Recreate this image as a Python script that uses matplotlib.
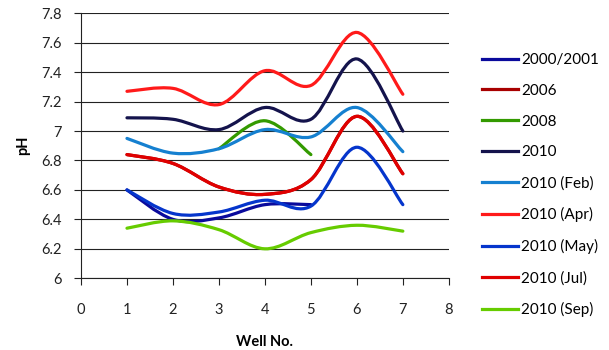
import matplotlib.pyplot as plt
import numpy as np
from matplotlib.path import Path
from matplotlib.patches import PathPatch
from matplotlib.lines import Line2D

wells = [1, 2, 3, 4, 5, 6, 7]
nan = np.nan

ph_2000 = [6.60, 6.40, 6.41, 6.50, 6.50, nan, nan]
ph_2006 = [6.84, 6.78, 6.62, 6.57, 6.67, 7.10, 6.71]
ph_2008 = [nan, nan, 6.88, 7.07, 6.84, nan, nan]
ph_2010 = [7.09, 7.08, 7.01, 7.16, 7.08, 7.49, 7.00]
ph_feb = [6.95, 6.85, 6.88, 7.01, 6.96, 7.16, 6.86]
ph_apr = [7.27, 7.29, 7.18, 7.41, 7.31, 7.67, 7.25]
ph_may = [6.60, 6.44, 6.45, 6.53, 6.49, 6.89, 6.50]
ph_jul = [6.84, 6.78, 6.62, 6.57, 6.67, 7.10, 6.71]
ph_sep = [6.34, 6.39, 6.33, 6.20, 6.31, 6.36, 6.32]

series = [
    ('2000/2001', ph_2000, '#0a0a9c'),
    ('2006', ph_2006, '#a80000'),
    ('2008', ph_2008, '#339a00'),
    ('2010', ph_2010, '#14134c'),
    ('2010 (Feb)', ph_feb, '#1580d0'),
    ('2010 (Apr)', ph_apr, '#ff1a1a'),
    ('2010 (May)', ph_may, '#0535cc'),
    ('2010 (Jul)', ph_jul, '#e00000'),
    ('2010 (Sep)', ph_sep, '#66cc00'),
]


def smooth_path(xs, ys):
    # spreadsheet-style smoothed line: cubic Bezier through each point
    pts = np.array([(x, y) for x, y in zip(xs, ys) if not np.isnan(y)])
    n = len(pts)
    verts = [pts[0]]
    codes = [Path.MOVETO]
    for i in range(n - 1):
        p0 = pts[max(i - 1, 0)]
        p1 = pts[i]
        p2 = pts[i + 1]
        p3 = pts[min(i + 2, n - 1)]
        verts += [p1 + (p2 - p0) / 6, p2 - (p3 - p1) / 6, p2]
        codes += [Path.CURVE4] * 3
    return Path(verts, codes)


plt.rcParams['font.family'] = ['Lato', 'DejaVu Sans']

fig = plt.figure(figsize=(6.09, 3.5), dpi=100)
ax = fig.add_axes([0.133, 0.205, 0.604, 0.757])

for label, vals, color in series:
    patch = PathPatch(smooth_path(wells, vals), fill=False, edgecolor=color,
                      lw=2.3, capstyle='round', joinstyle='round')
    ax.add_patch(patch)

ax.set_xlim(0, 8)
ax.set_ylim(6, 7.8)
ax.set_xticks(range(0, 9))
ax.set_yticks(np.arange(6, 7.81, 0.2))
ax.set_yticklabels(['6', '6.2', '6.4', '6.6', '6.8', '7', '7.2', '7.4', '7.6', '7.8'])
ax.yaxis.grid(True, color='#222222', lw=0.8)
ax.set_axisbelow(True)
for side in ['top', 'right']:
    ax.spines[side].set_visible(False)
for side in ['left', 'bottom']:
    ax.spines[side].set_color('#222222')
    ax.spines[side].set_linewidth(0.8)
ax.tick_params(axis='y', direction='out', length=5, width=0.8, pad=9,
               labelsize=10.5, colors='#222222')
ax.tick_params(axis='x', direction='out', length=5, width=0.8, pad=13,
               labelsize=10.5, colors='#222222')

ax.set_xlabel('Well No.', fontsize=10.5, fontweight='bold', labelpad=13)
ax.set_ylabel('pH', fontsize=10.5, fontweight='bold', labelpad=8)

handles = [Line2D([], [], color=c, lw=2.3) for _, _, c in series]
labels = [s[0] for s in series]
fig.legend(handles, labels, loc='upper left', bbox_to_anchor=(0.7815, 0.866),
           frameon=False, fontsize=11, handlelength=2.35, handletextpad=0.2,
           labelspacing=1.1, borderaxespad=0)

fig.savefig('out.png', dpi=100)
